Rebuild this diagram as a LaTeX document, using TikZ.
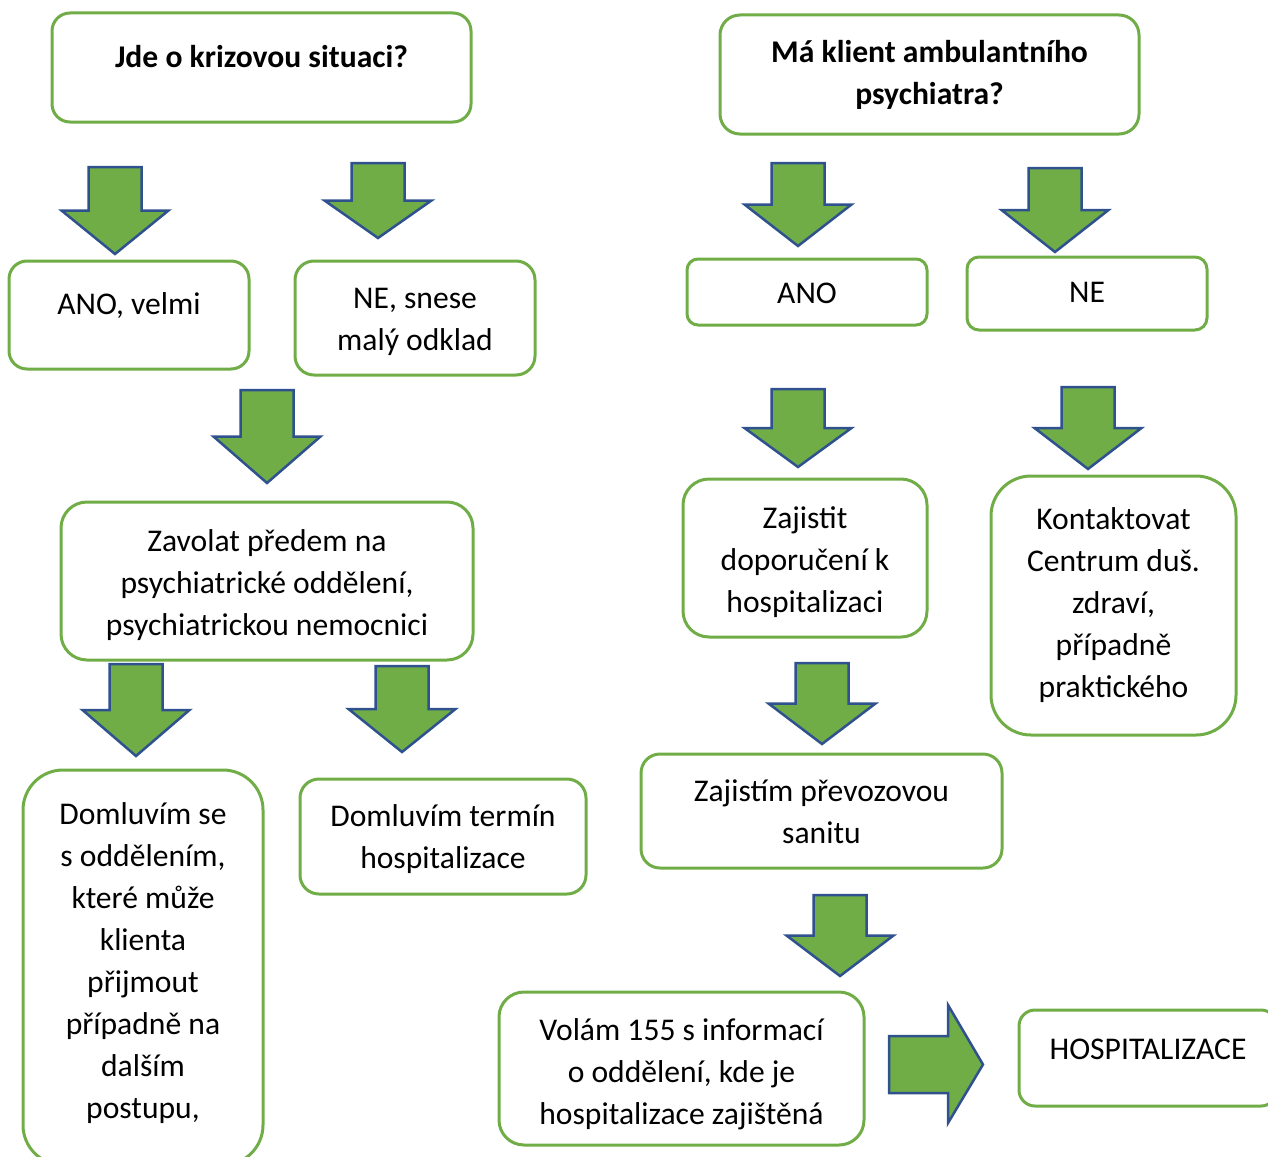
\documentclass[tikz,border=0pt]{standalone}
\usepackage{fontspec}
\setmainfont{Carlito}
\usepackage{tikz}
\definecolor{grass green}{HTML}{70AD47}
\definecolor{ink blue}{HTML}{2F528F}
\tikzset{
	box/.style={draw=grass green, line width=3pt, rounded corners=#1, align=center, inner sep=0pt,
		font=\fontsize{31.6pt}{42pt}\selectfont},
	box/.default=19pt,
	spread/.style 2 args={text height=#1, text depth=#2},
	block arrow/.style={fill=grass green, draw=ink blue, line width=2.5pt, line join=miter}
}

\begin{document}
\begin{tikzpicture}[x=1pt, y=-1pt]
		\useasboundingbox (0,0) rectangle (1268,1156);
		\clip (0,0) rectangle (1268,1156);
		% part for the crisis question
		\begin{scope}
			\node[box=18pt, spread={25pt}{25pt}, minimum width=419pt, minimum height=109pt] (crisis) at (261.5,67.5)
				{\bfseries Jde o krizovou situaci?};
			\node[box=18pt, spread={23pt}{25pt}, minimum width=240pt, minimum height=108pt] (urgent) at (129,315)
				{ANO, velmi};
			\node[box, spread={65pt}{0pt}, minimum width=240pt, minimum height=114pt] (delay) at (415,318)
				{NE, snese\\malý odklad};
			\node[box=26pt, spread={109pt}{0pt}, minimum width=412pt, minimum height=158pt] (call) at (267,581)
				{Zavolat předem na\\psychiatrické oddělení,\\psychiatrickou nemocnici};
			\node[box=40pt, spread={319pt}{18pt}, minimum width=240pt, minimum height=395pt] (agree) at (143,967.5)
				{Domluvím se\\s oddělením,\\které může\\klienta\\přijmout\\případně na\\dalším\\postupu,};
			\node[box, spread={63pt}{0pt}, minimum width=286pt, minimum height=115pt] (term) at (443,836.5)
				{Domluvím termín\\hospitalizace};
		\end{scope}
		% part for the psychiatrist question
		\begin{scope}
			\node[box=20pt, spread={66pt}{6pt}, minimum width=419pt, minimum height=119pt] (psych) at (929.5,74.5)
				{\bfseries Má klient ambulantního\\\bfseries psychiatra?};
			\node[box=11pt, spread={23pt}{0pt}, minimum width=240pt, minimum height=66pt] (yes) at (807,292)
				{ANO};
			\node[box=12pt, spread={23pt}{6pt}, minimum width=240pt, minimum height=73pt] (no) at (1087,293.5)
				{NE};
			\node[box=26pt, spread={109pt}{0pt}, minimum width=244pt, minimum height=158pt] (referral) at (805,558)
				{Zajistit\\doporučení k\\hospitalizaci};
			\node[box=40pt, spread={191pt}{8pt}, minimum width=245pt, minimum height=259pt] (contact) at (1113.5,605.5)
				{Kontaktovat\\Centrum duš.\\zdraví,\\případně\\praktického};
			\node[box, spread={65pt}{0pt}, minimum width=361pt, minimum height=114pt] (ambulance) at (821.5,811)
				{Zajistím převozovou\\sanitu};
			\node[box=25pt, spread={115pt}{4pt}, minimum width=365pt, minimum height=153pt] (dial) at (681.5,1068.5)
				{Volám 155 s informací\\o oddělení, kde je\\hospitalizace zajištěná};
			\node[box=16pt, spread={25pt}{23pt}, minimum width=258pt, minimum height=96pt] (admit) at (1148,1058)
				{HOSPITALIZACE};
		\end{scope}
		% block arrows
		\foreach \xm/\ytop/\ytip in {115/167/254, 378/163/238, 267/390/483, 136/664/756, 402/666/752,
				798/163/246, 1055/168/252, 798/389/467, 1088/387/469, 822/663/744, 840/895/976}
			\draw[block arrow] (\xm-26.5,\ytop) -- (\xm+26.5,\ytop) -- (\xm+26.5,{(\ytop+\ytip)/2})
				-- (\xm+53.5,{(\ytop+\ytip)/2}) -- (\xm,\ytip) -- (\xm-53.5,{(\ytop+\ytip)/2})
				-- (\xm-26.5,{(\ytop+\ytip)/2}) -- cycle;
		\draw[block arrow] (889,1036) -- (948,1036) -- (948,1005) -- (983,1064.5)
			-- (948,1123) -- (948,1093) -- (889,1093) -- cycle;
	\end{tikzpicture}
\end{document}
